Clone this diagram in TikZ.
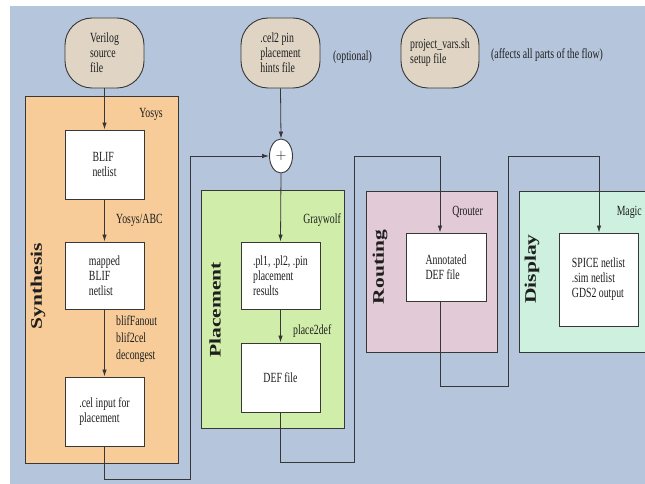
\documentclass[tikz,border=0pt]{standalone}
\usepackage{fontspec}
\setmainfont{Liberation Serif}[FakeStretch=0.7]
\newfontfamily\lblfont{Liberation Serif}
\usetikzlibrary{arrows.meta,shapes.geometric}
\definecolor{bgblue}{RGB}{181,197,220}
\definecolor{synfill}{RGB}{247,204,152}
\definecolor{plafill}{RGB}{208,237,170}
\definecolor{roufill}{RGB}{226,202,214}
\definecolor{disfill}{RGB}{205,241,222}
\definecolor{ovalfill}{RGB}{224,213,197}
\definecolor{edge}{RGB}{55,55,55}
\definecolor{txt}{RGB}{30,30,30}
\tikzset{
  every node/.style={text=txt, font=\fontsize{14}{15}\selectfont},
  stage/.style={draw=edge, line width=0.9pt, inner sep=0pt, minimum width=#1},
  filebox/.style={draw=edge, line width=0.9pt, fill=white, inner sep=0pt, align=left},
  oval/.style={draw=edge, line width=0.9pt, fill=ovalfill, rounded corners=27pt, inner sep=0pt, align=left, minimum width=79pt, minimum height=70pt},
  lbl/.style={inner sep=0pt, align=left},
  stagelbl/.style={inner sep=0pt, rotate=90, font=\lblfont\bfseries\fontsize{21.5}{22}\selectfont},
  conn/.style={draw=edge, line width=0.8pt},
  arr/.style={conn, -{Latex[length=7pt,width=4.5pt]}},
}
\begin{document}
\begin{tikzpicture}[x=1pt,y=-1pt]
\useasboundingbox (0,0) rectangle (645,484);
\clip (0,0) rectangle (645,484);
\fill[bgblue] (10,6) rectangle (650,490);

% stage boxes
\node[stage=153pt, minimum height=367pt, fill=synfill] (syn) at (101.5,279.5) {};
\node[stage=143pt, minimum height=238pt, fill=plafill] (pla) at (272.5,309) {};
\node[stage=131pt, minimum height=161pt, fill=roufill] (rou) at (431.5,271.5) {};
\node[stage=131pt, minimum height=161pt, fill=disfill] (dis) at (584.5,271.5) {};

% stage labels
\node[stagelbl] (synl) at (38,286) {\scalebox{1}[0.75]{Synthesis}};
\node[stagelbl] (plal) at (215,310) {\scalebox{1}[0.75]{Placement}};
\node[stagelbl] (roul) at (380,267) {\scalebox{1}[0.75]{Routing}};
\node[stagelbl] (disl) at (532,269) {\scalebox{1}[0.75]{Display}};

% tool labels
\node[lbl, anchor=east] (yosys) at (163,114) {Yosys};
\node[lbl, anchor=east] (gray) at (341,220) {Graywolf};
\node[lbl, anchor=east] (qrout) at (483,212) {Qrouter};
\node[lbl, anchor=east] (magic) at (642,212) {Magic};

% input ovals
\node[oval] (veri) at (104.5,53) {Verilog\\source\\file};
\node[oval] (cel2) at (280.5,53) {.cel2 pin\\placement\\hints file};
\node[oval, minimum width=78pt] (proj) at (440,53) {project\_vars.sh\\setup file};
\node[lbl, anchor=west] (opt) at (333,57) {(optional)};
\node[lbl, anchor=west] (aff) at (491,55) {(affects all parts of the flow)};

% file boxes
\node[filebox, minimum width=79pt, minimum height=69pt] (blif) at (104.5,164.5) {BLIF\\netlist};
\node[filebox, minimum width=79pt, minimum height=67pt] (mapped) at (104.5,275.5) {mapped\\BLIF\\netlist};
\node[filebox, minimum width=79pt, minimum height=69pt] (celin) at (104.5,411.5) {.cel input for\\placement};
\node[filebox, minimum width=79pt, minimum height=67pt] (pl) at (280.5,275.5) {.pl1, .pl2, .pin\\placement\\results};
\node[filebox, minimum width=79pt, minimum height=69pt] (def) at (280.5,377.5) {DEF file};
\node[filebox, minimum width=80pt, minimum height=68pt] (ann) at (446,267) {Annotated\\DEF file};
\node[filebox, minimum width=79pt, minimum height=93pt] (spice) at (598.5,279.5) {SPICE netlist\\.sim netlist\\GDS2 output};

% merge point
\node[draw=edge, line width=0.9pt, fill=white, ellipse, minimum width=23pt, minimum height=34pt, inner sep=0pt] (plus) at (281,156) {$+$};

% step labels
\node[lbl, anchor=west] (yabc) at (116,220) {Yosys/ABC};
\node[lbl, anchor=west, font=\fontsize{14}{17}\selectfont] (bfan) at (116,339) {blifFanout\\blif2cel\\decongest};
\node[lbl, anchor=west] (p2d) at (293,331) {place2def};

% routing coordinates
\coordinate (c1) at (190,479);
\coordinate (c2) at (354,462);
\coordinate (c3) at (440,156);
\coordinate (c4) at (440,386);
\coordinate (c5) at (508,156);
\coordinate (c6) at (599,156);

% connectors
\draw[arr] (veri.south) -- (blif.north);
\draw[arr] (blif.south) -- (mapped.north);
\draw[arr] (mapped.south) -- (celin.north);
\draw[arr] (celin.south) |- (c1) |- (plus.west);
\draw[arr] (cel2.south) -- (plus.north);
\draw[arr] (plus.south) -- (pl.north);
\draw[arr] (pl.south) -- (def.north);
\draw[arr] (def.south) |- (c2) |- (c3) -- (c3 |- ann.north);
\draw[arr] (c3 |- ann.south) -- (c4) -| (c5) -- (c6) -- (c6 |- spice.north);
\end{tikzpicture}
\end{document}
